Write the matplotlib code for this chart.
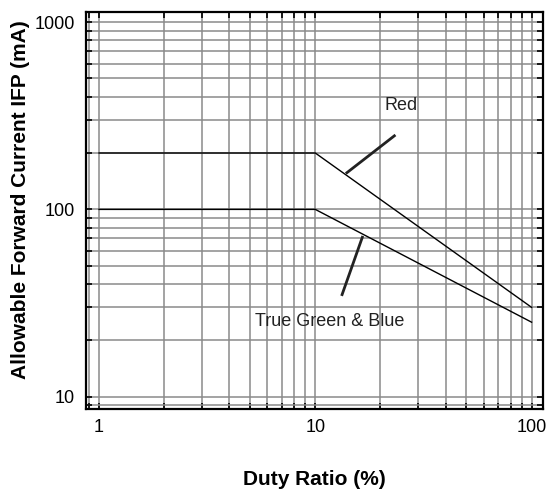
import matplotlib
matplotlib.use("Agg")
import matplotlib.pyplot as plt
from matplotlib.ticker import LogLocator, NullFormatter, FixedLocator, FixedFormatter

plt.rcParams.update(
    {
        "font.family": ["Liberation Sans", "DejaVu Sans"],
        "font.size": 12,
    }
)

# ── data ─────────────────────────────────────────────────────────────
duty_ratio = [1, 10, 100]
ifp_red = [200, 200, 30]
ifp_green_blue = [100, 100, 25]

x_ticks = [1, 10, 100]
x_tick_labels = ["1", "10", "100"]
y_ticks = [10, 100, 1000]
y_tick_labels = ["10", "100", "1000"]

GRID = "#8a8a8a"

fig = plt.figure(figsize=(5.48, 4.95), dpi=100)
ax = fig.add_axes([0.157, 0.1737, 0.834, 0.803])

ax.plot(duty_ratio, ifp_red, color="black", lw=1.0, zorder=4)
ax.plot(duty_ratio, ifp_green_blue, color="black", lw=1.0, zorder=4)

ax.set_xscale("log")
ax.set_yscale("log")
ax.set_xlim(0.871, 113)
ax.set_ylim(8.6, 1138)

ax.xaxis.set_major_locator(FixedLocator(x_ticks))
ax.xaxis.set_major_formatter(FixedFormatter(x_tick_labels))
ax.yaxis.set_major_locator(FixedLocator(y_ticks))
ax.yaxis.set_major_formatter(FixedFormatter(y_tick_labels))
ax.xaxis.set_minor_locator(LogLocator(base=10, subs=range(2, 10)))
ax.yaxis.set_minor_locator(LogLocator(base=10, subs=range(2, 10)))
ax.xaxis.set_minor_formatter(NullFormatter())
ax.yaxis.set_minor_formatter(NullFormatter())

ax.grid(True, which="both", color=GRID, lw=1.1, zorder=1)
ax.set_axisbelow(True)

ax.tick_params(which="both", direction="in", top=True, right=True,
               length=4, width=1.2, color="black")
ax.tick_params(axis="x", which="major", labelsize=13, pad=7.5)
ax.tick_params(axis="y", which="major", labelsize=13, pad=8)
for sp in ax.spines.values():
    sp.set_linewidth(1.6)

# leader labels
ax.text(24.9, 360, "Red", ha="center", va="center", fontsize=13, color="#222222")
ax.plot([14.0, 23.2], [157, 247], color="#222222", lw=2.0, zorder=5)
ax.text(11.6, 25.1, "True Green & Blue", ha="center", va="center",
        fontsize=13, color="#222222")
ax.plot([16.5, 13.3], [71, 35.1], color="#222222", lw=2.0, zorder=5)

ax.set_xlabel("Duty Ratio (%)", fontsize=15, fontweight="bold", labelpad=24)
ax.set_ylabel("Allowable Forward Current IFP (mA)", fontsize=15, fontweight="bold")
ax.yaxis.set_label_coords(-0.123, 0.526)

fig.savefig("out.png", dpi=100)
